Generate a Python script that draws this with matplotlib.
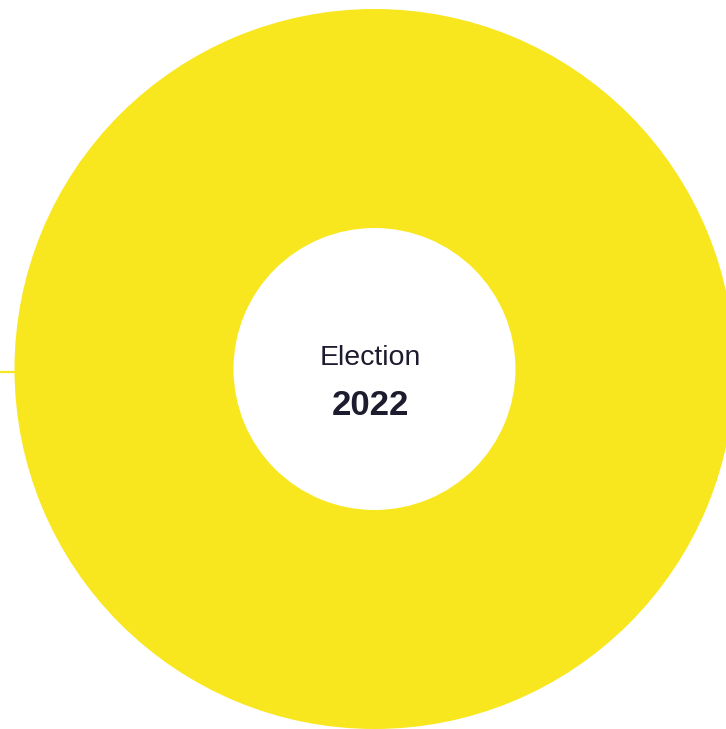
import matplotlib
matplotlib.use("Agg")
import matplotlib.pyplot as plt

labels = ["Election 2022"]
values = [100]
colors = ["#f8e71e"]
title_small = "Election"
title_big = "2022"

W, H = 726, 729
fig = plt.figure(figsize=(W / 100, H / 100), dpi=100)
ax = fig.add_axes([0, 0, 1, 1])

cx, cy, r_out, r_in = 374.5, 369, 360, 141
ax.pie(values, colors=colors, radius=r_out, center=(cx, cy), startangle=90,
       wedgeprops=dict(width=r_out - r_in, edgecolor="none"), frame=True)
ax.set_xlim(0, W)
ax.set_ylim(H, 0)
ax.axis("off")

# leader line on left
ax.plot([0, cx - r_out + 2], [372, 372], color=colors[0], lw=1.6, solid_capstyle="butt")

ax.text(370.5, 365, title_small, ha="center", va="baseline", fontsize=20.5,
        family="Liberation Sans", color="#1c1c2e")
ax.text(370.5, 415, title_big, ha="center", va="baseline", fontsize=25,
        family="Liberation Sans", fontweight="bold", color="#1c1c2e")

fig.savefig("out.png", dpi=100)
